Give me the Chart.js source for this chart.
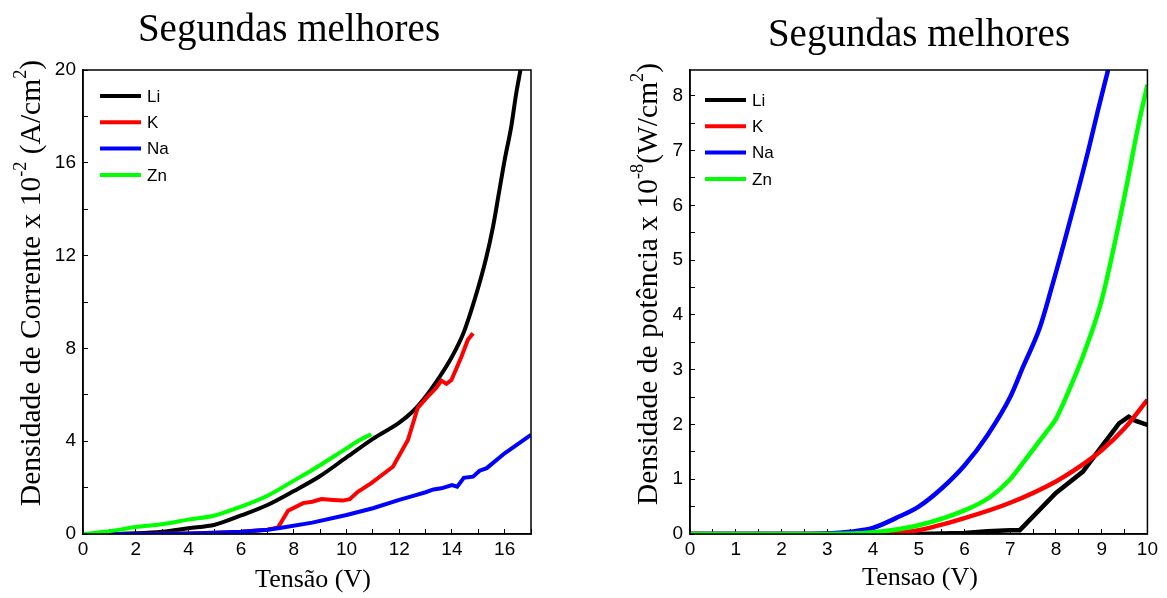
<!DOCTYPE html>
<html>
<head>
<script src="https://cdn.jsdelivr.net/npm/chart.js@4.4.0/dist/chart.umd.min.js"></script>
<title>Segundas melhores</title>
<style>
  body { margin:0; background:#fff; }
  .box { position:absolute; top:0; height:598px; }
</style>
</head>
<body>
<div class="box" style="left:0;width:583px"><canvas id="left"></canvas></div>
<div class="box" style="left:583px;width:584px"><canvas id="right"></canvas></div>
<script>
// series labels and colours
const names = ['Li', 'K', 'Na', 'Zn'];
const colors = ['#000000', '#ff0000', '#0000ff', '#00ff00'];

// left: current density (x 10^-2 A/cm2) vs voltage (V)
const liJ = [[0,0],[1,0],[2,0.03],[3,0.1],[4,0.25],[5,0.4],[6,0.8],[7,1.25],[8,1.85],[9,2.5],[10,3.3],[11,4.1],[12,4.8],[12.5,5.27],[13,5.92],[13.5,6.72],[14,7.64],[14.45,8.7],[14.86,10.1],[15.28,11.81],[15.56,13.25],[15.78,14.68],[16,16.12],[16.25,17.56],[16.44,19],[16.6,20]];
const kJ = [[0,0],[2,0],[4,0.02],[5,0.05],[6,0.1],[7,0.18],[7.4,0.28],[7.78,1.0],[8.35,1.33],[8.7,1.39],[9.05,1.51],[9.5,1.47],[9.86,1.44],[10.12,1.5],[10.43,1.82],[10.94,2.19],[11.76,2.9],[12.33,4.05],[12.7,5.43],[13.08,5.92],[13.4,6.29],[13.6,6.61],[13.79,6.47],[13.98,6.64],[14.36,7.64],[14.6,8.36],[14.8,8.65]];
const naJ = [[0,0],[2,0],[4,0.02],[5,0.05],[6,0.1],[7,0.18],[7.47,0.26],[8.7,0.49],[10,0.82],[11,1.11],[12,1.47],[12.5,1.63],[13,1.8],[13.3,1.92],[13.6,1.97],[14,2.11],[14.2,2.04],[14.45,2.42],[14.8,2.47],[15.05,2.73],[15.32,2.84],[16,3.48],[17,4.27]];
const znJ = [[0,0],[1,0.12],[2,0.3],[3,0.42],[4,0.62],[5,0.8],[6,1.18],[7,1.65],[8,2.3],[8.7,2.76],[10,3.69],[10.5,4.05],[10.94,4.3]];

// right: power density (x 10^-8 W/cm2) vs voltage (V)
const liP = [[0,0],[5,0],[6,0.02],[6.5,0.05],[7,0.07],[7.21,0.07],[8,0.75],[8.59,1.14],[9,1.6],[9.38,2.02],[9.59,2.14],[9.73,2.07],[10,1.99]];
const kP = [[0,0],[4,0],[4.5,0.02],[5,0.07],[6,0.29],[7,0.57],[8,0.96],[8.5,1.22],[9,1.53],[9.5,1.93],[10,2.45]];
const naP = [[0,0],[2,0],[3,0.01],[3.5,0.04],[4,0.11],[4.5,0.29],[5,0.5],[5.5,0.83],[6,1.25],[6.5,1.8],[7,2.5],[7.28,3.05],[7.64,3.75],[7.89,4.45],[8.35,5.85],[8.71,7.01],[8.92,7.74],[9.14,8.47]];
const znP = [[0,0],[3,0],[4,0.03],[5,0.16],[6,0.43],[6.57,0.68],[7,1.0],[7.28,1.3],[7.78,1.85],[8,2.1],[8.35,2.75],[8.64,3.36],[9,4.27],[9.5,6.17],[9.8,7.45],[10,8.2]];

const sans = '"Liberation Sans", Arial, sans-serif';
const serif = '"Liberation Serif", "Times New Roman", serif';

function rich(ctx, parts, x, y, size, vertical) {
  ctx.save();
  ctx.translate(x, y);
  if (vertical) ctx.rotate(-Math.PI / 2);
  let w = 0;
  parts.forEach(p => {
    ctx.font = (p[1] ? size * 0.62 : size) + 'px ' + serif;
    w += ctx.measureText(p[0]).width;
  });
  let cx = -w / 2;
  ctx.textBaseline = 'middle';
  ctx.textAlign = 'left';
  ctx.fillStyle = '#000';
  parts.forEach(p => {
    ctx.font = (p[1] ? size * 0.62 : size) + 'px ' + serif;
    ctx.fillText(p[0], cx, p[1] ? -size * 0.36 : 0);
    cx += ctx.measureText(p[0]).width;
  });
  ctx.restore();
}

const decor = {
  id: 'decor',
  afterDatasetsDraw(chart, args, o) {
    const ctx = chart.ctx, a = chart.chartArea;
    ctx.save();
    ctx.strokeStyle = '#000';
    ctx.lineWidth = 1.5;
    ctx.strokeRect(a.left, a.top, a.right - a.left, a.bottom - a.top);
    // legend
    ctx.font = '17px ' + sans;
    ctx.textBaseline = 'middle';
    ctx.textAlign = 'left';
    chart.data.datasets.forEach((ds, i) => {
      const y = a.top + o.legY + i * o.legGap;
      ctx.strokeStyle = ds.borderColor;
      ctx.lineWidth = 4;
      ctx.beginPath();
      ctx.moveTo(a.left + o.legX, y);
      ctx.lineTo(a.left + o.legX + 41, y);
      ctx.stroke();
      ctx.fillStyle = '#000';
      ctx.fillText(ds.label, a.left + o.legX + 47, y + 1);
    });
    ctx.restore();
    rich(ctx, [[o.title]], o.titleX, o.titleY, 39, false);
    rich(ctx, o.xTitle, o.xTitleX, o.xTitleY, 26, false);
    rich(ctx, o.yTitle, o.yTitleX, o.yTitleY, 29.5, true);
  }
};

// smooth: which series are drawn with a smooth curve
function makeSets(series, width, smooth) {
  return series.map((s, i) => ({
    label: names[i],
    data: s.map(p => ({x: p[0], y: p[1]})),
    borderColor: colors[i],
    backgroundColor: colors[i],
    borderWidth: width,
    showLine: true,
    pointRadius: 0,
    cubicInterpolationMode: smooth[i] ? 'monotone' : 'default',
    tension: 0,
    order: 4 - i
  }));
}

function axis(min, max, step, labelEvery, pos, fit) {
  return {
    type: 'linear', position: pos, min: min, max: max,
    afterFit: fit,
    ticks: {
      stepSize: step, autoSkip: false, maxRotation: 0, includeBounds: false,
      padding: pos === 'left' ? 12 : 9,
      color: '#000', font: {family: sans, size: 19},
      callback: v => (Math.abs(v / labelEvery - Math.round(v / labelEvery)) < 1e-6 ? String(Math.round(v)) : '')
    },
    grid: {drawOnChartArea: false, tickLength: -5, color: '#000', tickColor: '#000', lineWidth: 1},
    border: {color: '#000', width: 1.5}
  };
}

new Chart(document.getElementById('left'), {
  type: 'scatter',
  data: {datasets: makeSets([liJ, kJ, naJ, znJ], 4, [true, false, false, true])},
  plugins: [decor],
  options: {
    responsive: true, maintainAspectRatio: false, animation: false,
    layout: {padding: {top: 70, right: 52, left: 0, bottom: 0}},
    scales: {
      x: axis(0, 17, 1, 2, 'bottom', s => { s.height = 64; }),
      y: axis(0, 20, 2, 4, 'left', s => { s.width = 83; })
    },
    plugins: {
      legend: {display: false}, tooltip: {enabled: false},
      decor: {
        legX: 17, legY: 26, legGap: 26.3,
        title: 'Segundas melhores', titleX: 289, titleY: 31,
        xTitle: [['Tensão (V)']], xTitleX: 313, xTitleY: 580,
        yTitle: [['Densidade de Corrente x 10'], ['-2', true], [' (A/cm'], ['2', true], [')']],
        yTitleX: 32, yTitleY: 283
      }
    }
  }
});

new Chart(document.getElementById('right'), {
  type: 'scatter',
  data: {datasets: makeSets([liP, kP, naP, znP], 4.5, [false, true, true, true])},
  plugins: [decor],
  options: {
    responsive: true, maintainAspectRatio: false, animation: false,
    layout: {padding: {top: 70, right: 10, left: 0, bottom: 0}},
    scales: {
      x: axis(0, 10, 0.5, 1, 'bottom', s => { s.height = 64; }),
      y: axis(0, 8.47, 0.5, 1, 'left', s => { s.width = 107; })
    },
    plugins: {
      legend: {display: false}, tooltip: {enabled: false},
      decor: {
        legX: 15, legY: 30, legGap: 26.3,
        title: 'Segundas melhores', titleX: 336, titleY: 36,
        xTitle: [['Tensao (V)']], xTitleX: 337, xTitleY: 578,
        yTitle: [['Densidade de potência x 10'], ['-8', true], ['(W/cm'], ['2', true], [')']],
        yTitleX: 66, yTitleY: 284
      }
    }
  }
});
</script>
</body>
</html>
